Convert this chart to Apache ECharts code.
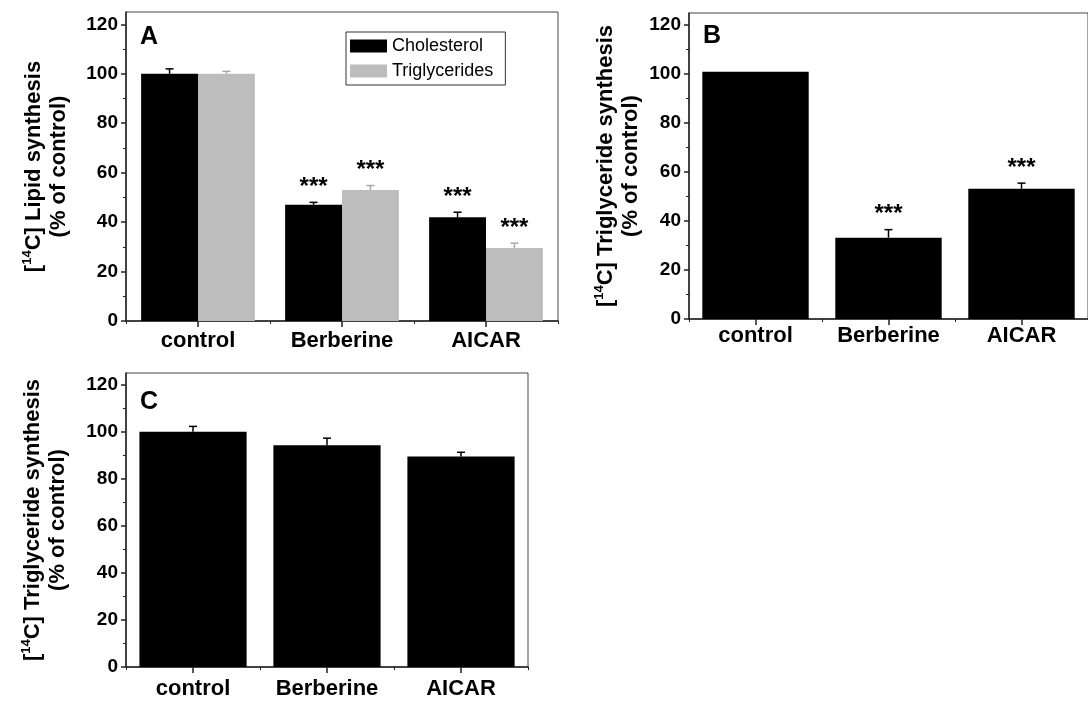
<!DOCTYPE html>
<html>
<head>
<meta charset="utf-8">
<script src="https://cdn.jsdelivr.net/npm/echarts@6/dist/echarts.min.js"></script>
<style>
html,body{margin:0;padding:0;background:#fff;}
#chart{width:1088px;height:704px;}
</style>
</head>
<body>
<div id="chart"></div>
<script>
// ---------------- data ----------------
const categories = ['control', 'Berberine', 'AICAR'];
const yTicks = [0, 20, 40, 60, 80, 100, 120];
const yMinorTicks = [10, 30, 50, 70, 90, 110];
const yMax = 125;

// Panel A: lipid synthesis (% of control)
const aCholesterol = [100, 47, 42];
const aCholesterolErrTop = [102, 48, 44];
const aCholesterolSig = ['', '***', '***'];
const aTriglycerides = [100, 53, 29.5];
const aTriglyceridesErrTop = [101, 54.8, 31.5];
const aTriglyceridesSig = ['', '***', '***'];

// Panel B: triglyceride synthesis
const bTriglycerides = [101, 33.2, 53.2];
const bErrTop = [null, 36.5, 55.5];
const bSig = ['', '***', '***'];

// Panel C: triglyceride synthesis
const cTriglycerides = [100, 94.3, 89.5];
const cErrTop = [102.3, 97.3, 91.3];
const cSig = ['', '', ''];

// ---------------- styling ----------------
const FONT = '"Liberation Sans", Arial, Helvetica, sans-serif';
const BLACK = '#000000';
const GREY = '#bdbdbd';
const AXIS = '#222';

const chart = echarts.init(document.getElementById('chart'), null, {renderer: 'canvas'});

const grids = [
  {left: 126, top: 12, width: 432, height: 309},
  {left: 689, top: 13, width: 404, height: 306},
  {left: 126, top: 373, width: 402, height: 294}
];

const titleA = '{n|[}{s|14}{n|C] Lipid synthesis}\n{n|(% of control)}';
const titleT = '{n|[}{s|14}{n|C] Triglyceride synthesis}\n{n|(% of control)}';
const nameRich = {
  n: {fontFamily: FONT, fontWeight: 'bold', fontSize: 22, color: '#000', lineHeight: 25},
  s: {fontFamily: FONT, fontWeight: 'bold', fontSize: 13, color: '#000', verticalAlign: 'top', lineHeight: 25}
};

const xAxes = [];
const yAxes = [];
grids.forEach((g, i) => {
  xAxes.push({
    gridIndex: i, type: 'category', data: categories, position: 'bottom',
    axisLine: {show: true, onZero: false, lineStyle: {color: AXIS, width: 1.5}},
    axisTick: {show: true, alignWithLabel: true, length: 6, lineStyle: {color: AXIS, width: 1.5}},
    axisLabel: {show: true, interval: 0, hideOverlap: false, fontFamily: FONT, fontWeight: 'bold', fontSize: 22, color: '#000', margin: [9, 6, 11][i]},
    splitLine: {show: false}
  });
  xAxes.push({
    gridIndex: i, type: 'category', data: categories, position: 'bottom',
    axisLine: {show: false},
    axisTick: {show: true, alignWithLabel: false, length: 3, lineStyle: {color: AXIS, width: 1}},
    axisLabel: {show: false},
    splitLine: {show: false}
  });
  const nameGap = [55, 46, 56][i];
  yAxes.push({
    gridIndex: i, type: 'value', min: 0, max: yMax, interval: 20,
    name: i === 0 ? titleA : titleT,
    nameLocation: 'middle', nameRotate: 90, nameGap: nameGap,
    nameTextStyle: {rich: nameRich},
    axisLine: {show: true, lineStyle: {color: AXIS, width: 1.5}},
    axisTick: {show: true, length: 5, customValues: yTicks, lineStyle: {color: AXIS, width: 1.5}},
    axisLabel: {show: true, customValues: yTicks, fontFamily: FONT, fontWeight: 'bold', fontSize: 19, color: '#000', margin: 8},
    splitLine: {show: false}
  });
  yAxes.push({
    gridIndex: i, type: 'value', min: 0, max: yMax, position: 'left',
    axisLine: {show: false},
    axisTick: {show: true, length: 3, customValues: yMinorTicks, lineStyle: {color: AXIS, width: 1}},
    axisLabel: {show: false},
    splitLine: {show: false}
  });
});

function barSeries(name, gi, data, color, gap) {
  return {
    name: name, type: 'bar', xAxisIndex: gi * 2, yAxisIndex: gi * 2, data: data,
    barCategoryGap: gap, barGap: '0%',
    itemStyle: {color: color}, emphasis: {disabled: true}, z: 2
  };
}

function errSeries(gi, values, errTops, sigs, color, shift) {
  const data = values.map((v, k) => [k, v, errTops[k] == null ? NaN : errTops[k], sigs[k] || '']);
  return {
    type: 'custom', xAxisIndex: gi * 2, yAxisIndex: gi * 2, data: data, z: 5, clip: false,
    silent: true,
    renderItem: function (params, api) {
      const band = api.size([1, 0])[0];
      const base = api.coord([api.value(0), api.value(1)]);
      const x = base[0] + shift * band;
      const children = [];
      const et = api.value(2);
      let topY = base[1];
      if (!isNaN(et)) {
        const top = api.coord([api.value(0), et]);
        topY = top[1];
        children.push({type: 'line', shape: {x1: x, y1: base[1], x2: x, y2: topY}, style: {stroke: color, lineWidth: 1.5}});
        children.push({type: 'line', shape: {x1: x - 4, y1: topY, x2: x + 4, y2: topY}, style: {stroke: color, lineWidth: 1.5}});
      }
      const sig = sigs[api.value(0)];
      if (sig) {
        children.push({type: 'text', style: {text: sig, x: x, y: topY - 3, align: 'center', verticalAlign: 'bottom',
          font: 'bold 24px ' + FONT, fill: '#000'}});
      }
      return {type: 'group', children: children};
    }
  };
}

const series = [
  barSeries('Cholesterol', 0, aCholesterol, BLACK, '21%'),
  barSeries('Triglycerides', 0, aTriglycerides, GREY, '21%'),
  errSeries(0, aCholesterol, aCholesterolErrTop, aCholesterolSig, '#000', -0.1975),
  errSeries(0, aTriglycerides, aTriglyceridesErrTop, aTriglyceridesSig, '#a8a8a8', 0.1975),
  barSeries('B Triglyceride', 1, bTriglycerides, BLACK, '20%'),
  errSeries(1, bTriglycerides, bErrTop, bSig, '#000', 0),
  barSeries('C Triglyceride', 2, cTriglycerides, BLACK, '20%'),
  errSeries(2, cTriglycerides, cErrTop, cSig, '#000', 0)
];

const option = {
  animation: false,
  backgroundColor: '#fff',
  grid: grids.map(g => Object.assign({show: true, borderColor: '#444', borderWidth: 1, backgroundColor: 'transparent', containLabel: false}, g)),
  xAxis: xAxes,
  yAxis: yAxes,
  legend: {
    data: ['Cholesterol', 'Triglycerides'],
    orient: 'vertical', left: 346, top: 32,
    itemWidth: 37, itemHeight: 13, itemGap: 7,
    icon: 'rect',
    borderColor: '#333', borderWidth: 1, borderRadius: 0,
    padding: [5, 12, 5, 4],
    textStyle: {fontFamily: FONT, fontSize: 18, color: '#000'},
    selectedMode: false
  },
  graphic: [
    {type: 'text', left: 140, top: 25, style: {text: 'A', font: 'bold 25px ' + FONT, fill: '#000'}},
    {type: 'text', left: 703, top: 24, style: {text: 'B', font: 'bold 25px ' + FONT, fill: '#000'}},
    {type: 'text', left: 140, top: 390, style: {text: 'C', font: 'bold 25px ' + FONT, fill: '#000'}}
  ],
  series: series
};

chart.setOption(option);
</script>
</body>
</html>
